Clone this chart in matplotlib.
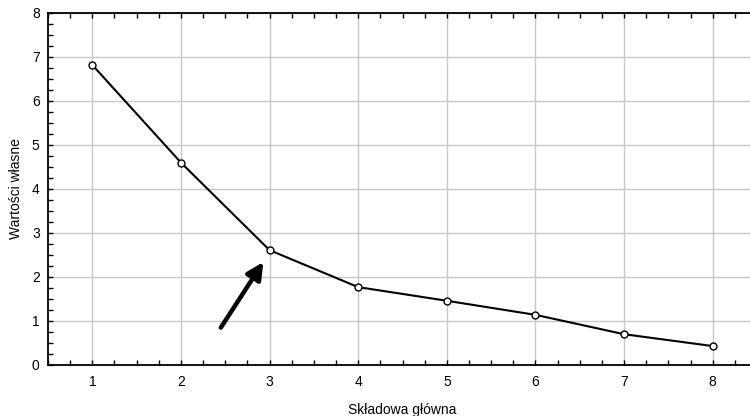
import matplotlib.pyplot as plt
from matplotlib.ticker import MultipleLocator

plt.rcParams['font.family'] = ['Liberation Sans', 'DejaVu Sans']

# Eigenvalues of the principal components (scree plot)
components = [1, 2, 3, 4, 5, 6, 7, 8]
eigenvalues = [6.82, 4.60, 2.61, 1.77, 1.46, 1.14, 0.70, 0.43]

fig = plt.figure(figsize=(7.5, 4.16), dpi=100)
ax = fig.add_axes([48 / 750, 51 / 416, 709 / 750, 352 / 416])

ax.plot(components, eigenvalues, color='black', linewidth=1.5,
        marker='o', markersize=5, markerfacecolor='white',
        markeredgecolor='black', markeredgewidth=1, zorder=3)

# arrow pointing at the elbow
ax.annotate('', xy=(2.93, 2.34), xytext=(2.45, 0.85),
            arrowprops=dict(arrowstyle='-|>,head_length=1.0,head_width=0.5',
                            color='black', linewidth=3.2, shrinkA=0, shrinkB=0))

ax.set_xlim(0.5, 8.5)
ax.set_ylim(0, 8)
ax.xaxis.set_major_locator(MultipleLocator(1))
ax.xaxis.set_minor_locator(MultipleLocator(0.25))
ax.yaxis.set_major_locator(MultipleLocator(1))
ax.yaxis.set_minor_locator(MultipleLocator(0.25))

ax.grid(True, which='major', color='#c8c8c8', linewidth=1)
ax.set_axisbelow(True)
ax.tick_params(which='both', direction='in', top=True, right=True,
               length=3.5, width=1, labelsize=10)
ax.tick_params(axis='y', which='major', pad=6)
ax.tick_params(axis='x', which='major', pad=7)

for side in ['left', 'bottom', 'top']:
    ax.spines[side].set_linewidth(1.3)

ax.set_xlabel('Składowa główna', fontsize=10, labelpad=10)
ax.set_ylabel('Wartości własne', fontsize=10, labelpad=6)

fig.savefig('out.png', dpi=100)
